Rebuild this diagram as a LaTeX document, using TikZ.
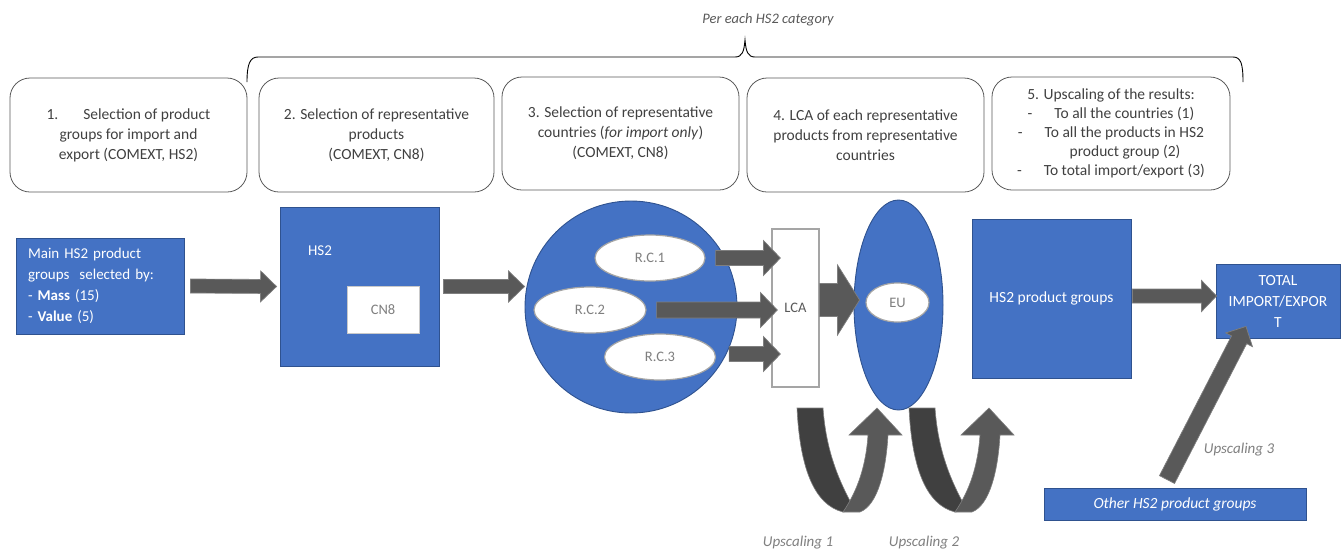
\documentclass[tikz,border=0pt]{standalone}
\usepackage{fontspec}
\setmainfont{Carlito}
\usetikzlibrary{arrows.meta,shapes.geometric,calc}
\definecolor{blu}{HTML}{4472C4}
\definecolor{blub}{HTML}{2F528F}
\definecolor{agray}{HTML}{595959}
\definecolor{dgray}{HTML}{404040}
\definecolor{tgray}{HTML}{404040}
\definecolor{lgray}{HTML}{A5A5A5}
\definecolor{mgray}{HTML}{7F7F7F}
\newcommand\blockarr[5]{%
  \coordinate (BAh) at ($(#2)!#5!(#1)$);
  \path[arrowstyle] ($(#1)!#3!90:(#2)$) -- ($(BAh)!#3!90:(#2)$) -- ($(BAh)!#4!90:(#2)$) -- (#2) -- ($(BAh)!#4!-90:(#2)$) -- ($(BAh)!#3!-90:(#2)$) -- ($(#1)!#3!-90:(#2)$) -- cycle;}
\tikzset{
  topbox/.style={draw=agray, line width=0.8pt, rounded corners=20pt, align=center, text=tgray, font=\fontsize{15.5}{20}\selectfont, inner sep=0pt},
  bluebox/.style={fill=blu, draw=blub, line width=0.9pt, text=white, font=\fontsize{15.5}{21}\selectfont, inner sep=0pt},
  whiteell/.style={ellipse, fill=white, draw=lgray, line width=1.2pt, text=mgray, font=\fontsize{14.5}{18}\selectfont, inner sep=0pt},
  lbl/.style={font=\fontsize{15}{18}\selectfont\itshape, text=mgray},
  arrowstyle/.style={fill=agray, draw=mgray, line width=0.7pt},
  uturn/.pic={
    \path[fill=dgray, draw=mgray, line width=0.6pt] (0,0) .. controls (3,62) and (18,97) .. (46,104) -- (58,102) .. controls (41,72) and (29,42) .. (26,0) -- cycle;
    \path[fill=agray, draw=mgray, line width=0.6pt] (46,104) .. controls (61,82) and (69,57) .. (71,27) -- (52,27) -- (80,0) -- (105,27) -- (91,27) .. controls (89,62) and (81,97) .. (63,104) -- cycle;
  }
}
\begin{document}
\begin{tikzpicture}[x=1pt,y=-1pt]
\useasboundingbox (0,0) rectangle (1341,550);

% brace and its label
\draw[black, line width=0.9pt] (247,82) .. controls (247,64) and (250,57) .. (258,57) -- (735,57) .. controls (742,57) and (744,52) .. (745,40) .. controls (746,52) and (748,57) .. (755,57) -- (1233,57) .. controls (1241,57) and (1243,64) .. (1243,82);
\node[font=\fontsize{14.5}{18}\selectfont\itshape, text=agray] (cat) at (768,20) {Per each HS2 category};

% top boxes
\node[topbox, minimum width=237pt, minimum height=114pt] (b1) at (128.5,135) {1.\hspace{25pt}Selection of product\\groups for import and\\export (COMEXT, HS2)};
\node[topbox, minimum width=235pt, minimum height=114pt] (b2) at (376.5,135) {2. Selection of representative\\products\\(COMEXT, CN8)};
\node[topbox, minimum width=237pt, minimum height=113pt] (b3) at (620.5,133.5) {3. Selection of representative\\countries (\textit{for import only})\\(COMEXT, CN8)};
\node[topbox, minimum width=237pt, minimum height=114pt] (b4) at (865.5,135) {4. LCA of each representative\\products from representative\\countries};
\node[topbox, minimum width=238pt, minimum height=113pt, font=\fontsize{15.5}{19}\selectfont] (b5) at (1111,133.5) {5. Upscaling of the results:\\-\hspace{22pt}To all the countries (1)\\-\hspace{22pt}To all the products in HS2\\\hspace*{28pt}product group (2)\\-\hspace{22pt}To total import/export (3)};

% bottom flow
\node[bluebox, minimum width=168pt, minimum height=96pt, text width=144pt, inner xsep=12pt, align=left, font=\fontsize{15}{21}\selectfont] (main) at (100,286) {Main HS2 product\\groups\ \ selected by:\\- \textbf{Mass} (15)\\- \textbf{Value} (5)};
\node[bluebox, minimum width=159pt, minimum height=159pt] (hs2) at (359.5,286.5) {};
\node[text=white, font=\fontsize{15}{18}\selectfont] (hs2lbl) at (320,251) {HS2};
\node[fill=white, draw=lgray!60, minimum width=72pt, minimum height=47pt, text=mgray, font=\fontsize{14.5}{18}\selectfont, inner sep=0pt] (cn8) at (383,309.5) {CN8};
\node[circle, fill=blu, draw=blub, line width=0.9pt, minimum size=212pt, inner sep=0pt] (circ) at (631,307) {};
\node[whiteell, minimum width=110pt, minimum height=46pt] (rc1) at (650,258) {R.C.1};
\node[whiteell, minimum width=112pt, minimum height=46pt] (rc2) at (590,310) {R.C.2};
\node[whiteell, minimum width=111pt, minimum height=46pt] (rc3) at (660,357) {R.C.3};
\node[fill=white, draw=lgray, line width=1.2pt, minimum width=47pt, minimum height=158pt, text=agray, font=\fontsize{14.5}{18}\selectfont, inner sep=0pt] (lca) at (795.5,308) {LCA};
\node[ellipse, fill=blu, draw=blub, line width=0.9pt, minimum width=89pt, minimum height=210pt, inner sep=0pt] (eu) at (898.5,305) {};
\node[whiteell, minimum width=63pt, minimum height=39pt] (euin) at (897.5,302.5) {EU};
\node[bluebox, minimum width=159pt, minimum height=159pt] (hs2pg) at (1051.5,298.5) {HS2 product groups};
\node[bluebox, minimum width=124pt, minimum height=74pt, align=center] (total) at (1278,301) {TOTAL\\IMPORT/EXPOR\\T};
\node[bluebox, minimum width=262pt, minimum height=32pt, font=\fontsize{15.5}{18}\selectfont\itshape] (other) at (1175,504) {Other HS2 product groups};

% upscaling loops
\pic at (797,408) {uturn};
\pic at (909,408) {uturn};
\node[lbl] (up1) at (798,543) {Upscaling 1};
\node[lbl] (up2) at (924,543) {Upscaling 2};
\node[lbl] (up3) at (1239,450) {Upscaling 3};

% connector end points
\coordinate (a1s) at ([xshift=6pt]main.east);
\coordinate (a1e) at ([xshift=-3pt]hs2.west);
\coordinate (a2s) at ([xshift=4pt]hs2.east);
\coordinate (a2e) at (hs2.east -| circ.west);
\coordinate (r1s) at ([xshift=10pt]rc1.east);
\coordinate (r1e) at ($(r1s -| lca.west)+(9,0)$);
\coordinate (r2s) at ([xshift=10pt]rc2.east);
\coordinate (r2e) at ($(r2s -| lca.west)+(6,0)$);
\coordinate (r3s) at ([xshift=13pt,yshift=3pt]rc3.east);
\coordinate (r3e) at ($(r3s -| lca.west)+(9,0)$);
\coordinate (les) at ([yshift=8pt]lca.east);
\coordinate (lee) at ($(les -| eu.west)+(6,0)$);
\coordinate (pgs) at ([xshift=1pt,yshift=2.5pt]hs2pg.east);
\coordinate (pge) at ($(pgs -| total.west)+(1,0)$);
\coordinate (u3s) at ([xshift=-8pt,yshift=8pt]other.north);
\coordinate (u3e) at ([xshift=-32pt,yshift=12pt]total.south);

% block arrows
\blockarr{a1s}{a1e}{7pt}{15.5pt}{16pt}
\blockarr{a2s}{a2e}{7pt}{15.5pt}{16pt}
\blockarr{r1s}{r1e}{7.5pt}{17.5pt}{17pt}
\blockarr{r2s}{r2e}{8pt}{17.5pt}{17pt}
\blockarr{r3s}{r3e}{7.5pt}{17.5pt}{17pt}
\blockarr{les}{lee}{16.5pt}{35pt}{22pt}
\blockarr{pgs}{pge}{7pt}{15.5pt}{15pt}
\blockarr{u3s}{u3e}{8.5pt}{15pt}{15pt}
\end{tikzpicture}
\end{document}
